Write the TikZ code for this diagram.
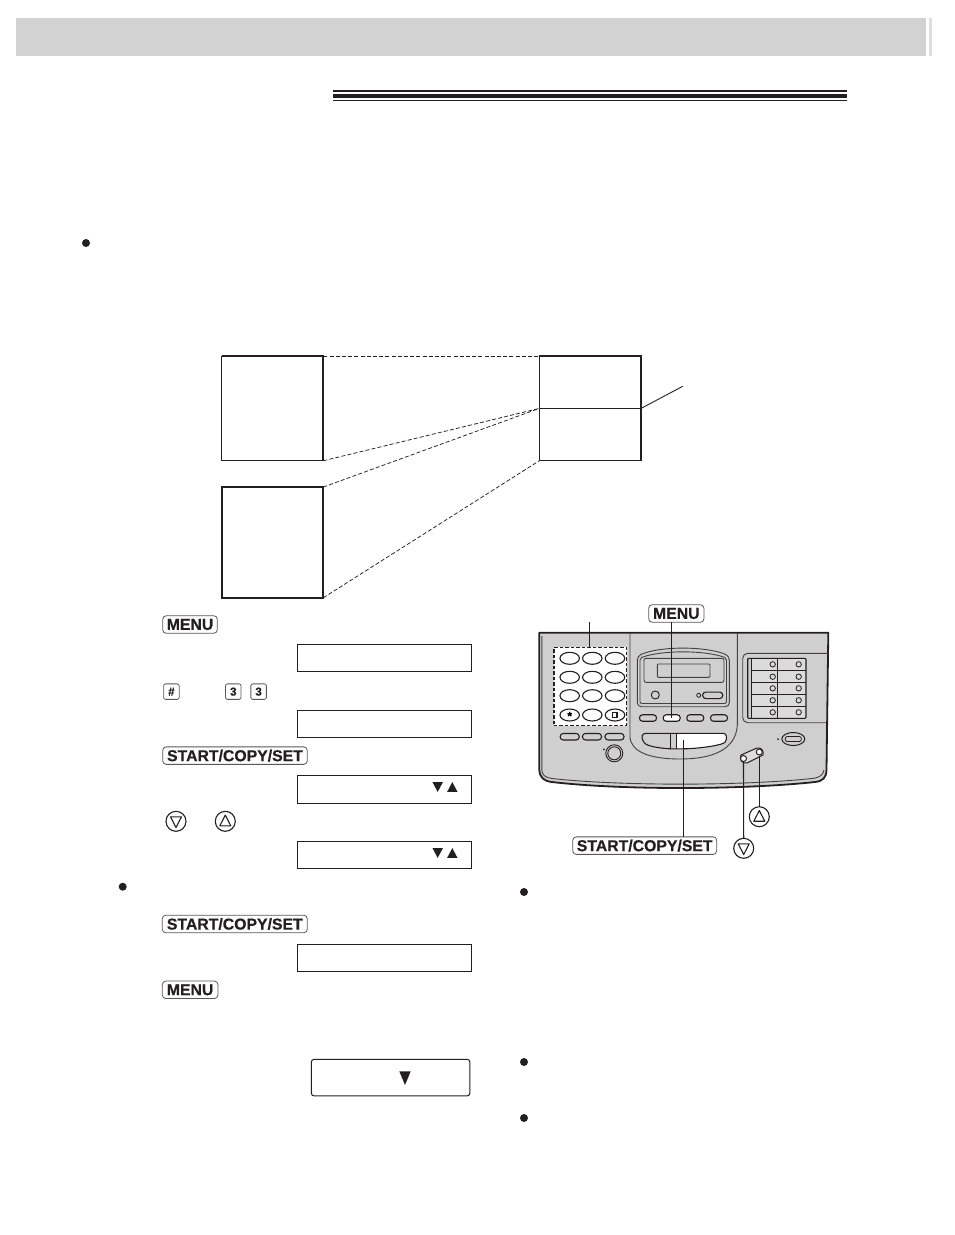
\documentclass[tikz,border=0pt]{standalone}
\usepackage{fontspec}
\setmainfont[BoldFeatures={FakeBold=0.6}]{Liberation Sans}
\usetikzlibrary{shapes.geometric,calc}
\definecolor{hdr}{HTML}{D2D2D2}
\definecolor{hdrb}{HTML}{DEDEDE}
\definecolor{pan}{HTML}{CFCFCF}
\definecolor{ink}{HTML}{231F20}
\tikzset{
  keycap/.style={draw=ink!75,line width=.8pt,rounded corners=3.5pt,inner sep=0pt,outer sep=0pt,fill=white,
    font=\bfseries\fontsize{15.8}{16}\selectfont,text=ink,minimum height=17.5pt},
  smallkey/.style={keycap,minimum height=15.5pt,minimum width=15.5pt,rounded corners=2pt,font=\bfseries\fontsize{11.5}{12}\selectfont},
  lcdbox/.style={draw=ink,line width=1.1pt,minimum width=174.4pt,minimum height=27pt,inner sep=0pt,outer sep=0pt},
  bigbox/.style={draw=ink,line width=1.1pt,inner sep=0pt,outer sep=0pt},
  tri/.style={fill=ink,draw=none},
  dashln/.style={draw=ink,line width=.75pt,dash pattern=on 4pt off 2.2pt},
  ldr/.style={draw=ink,line width=1.1pt},
  dotb/.style={circle,fill=ink,minimum size=8pt,inner sep=0pt},
  roundkey/.style={circle,draw=ink,line width=1.1pt,fill=white,minimum size=20pt,inner sep=0pt,outer sep=0pt},
  ovalkey/.style={ellipse,draw=ink,line width=1.1pt,fill=white,minimum width=19.5pt,minimum height=12pt,inner sep=0pt,outer sep=0pt},
  pill/.style={rounded corners=3pt,draw=ink,line width=1.1pt,inner sep=0pt,outer sep=0pt,minimum height=6.5pt,minimum width=17pt},
  panline/.style={draw=ink!85,line width=.9pt},
  led/.style={circle,draw=ink,line width=.8pt,minimum size=5.4pt,inner sep=0pt},
}
\newcommand{\downtri}[2]{\fill[tri] (#1-5.2,#2-4.9) -- (#1+5.2,#2-4.9) -- (#1,#2+4.9) -- cycle;}
\newcommand{\uptri}[2]{\fill[tri] (#1-5.2,#2+4.9) -- (#1+5.2,#2+4.9) -- (#1,#2-4.9) -- cycle;}
\begin{document}
\begin{tikzpicture}[x=1pt,y=-1pt]
\useasboundingbox (0,0) rectangle (954,1235);
% header
\fill[hdr] (16,18) rectangle (926,56);
\fill[hdrb] (929,18) rectangle (932,56);
% triple rule
\fill[ink] (333,90.3) rectangle (847,92.4);
\fill[ink] (333,94.1) rectangle (847,97.6);
\fill[ink] (333,99.6) rectangle (847,100.7);
% bullets
\node[dotb] (b0) at (86,243) {};
\node[dotb] (b1) at (122.7,886.7) {};
\node[dotb] (b2) at (524,892) {};
\node[dotb] (b3) at (524,1062) {};
\node[dotb] (b4) at (524,1118) {};
% upper diagram
\node[bigbox,minimum width=101.6pt,minimum height=104.7pt] (pa) at (272.5,408.4) {};
\node[bigbox,line width=2pt,minimum width=101.4pt,minimum height=110.7pt] (pb) at (272.6,542.4) {};
\node[bigbox,minimum width=101.8pt,minimum height=104.7pt] (pc) at (590.2,408.4) {};
\draw[ink,line width=2pt] (pa.north west) -- (pa.north east) -- (pa.south east);
\draw[ink,line width=2pt] (pc.north west) -- (pc.north east) -- (pc.south east);
\draw[ink,line width=1.1pt] (pc.west) -- (pc.east);
\coordinate (leaderend) at (682.7,386.3);
\draw[ink,line width=.9pt] (pc.east) -- (leaderend);
\draw[dashln] (pa.north east) -- (pc.north west);
\draw[dashln] (pa.south east) -- (pc.west);
\draw[dashln] (pb.north east) -- (pc.west);
\draw[dashln] (pb.south east) -- (pc.south west);
% left steps
\node[keycap,minimum width=54.6pt] (m1) at (190,624.5) {MENU};
\node[lcdbox] (d1) at (384.5,658) {};
\node[smallkey] (kh) at (171.4,691.6) {\#};
\node[smallkey] (k3a) at (233.3,691.6) {3};
\node[smallkey] (k3b) at (258.6,691.6) {3};
\node[lcdbox] (d2) at (384.5,723.8) {};
\node[keycap,minimum width=144.6pt] (s1) at (235,755.6) {START/COPY/SET};
\node[lcdbox,minimum height=28pt] (d3) at (384.5,789.3) {};
\downtri{437.7}{787}
\uptri{452.3}{787}
\node[roundkey] (kd) at (176,821.3) {};
\node[roundkey] (ku) at (225.3,821.3) {};
\draw[ink,line width=1.1pt,line join=round] (170.5,816.8) -- (181.5,816.8) -- (176,827.5) -- cycle;
\draw[ink,line width=1.1pt,line join=round] (219.8,825.8) -- (230.8,825.8) -- (225.3,815.1) -- cycle;
\node[lcdbox] (d4) at (384.5,854.8) {};
\downtri{437.7}{853}
\uptri{452.3}{853}
\node[keycap,minimum width=145pt] (s2) at (234.8,924) {START/COPY/SET};
\node[lcdbox] (d5) at (384.5,957.8) {};
\node[keycap,minimum width=55.6pt] (m2) at (190.1,989.8) {MENU};
\node[draw=ink,line width=1pt,rounded corners=3pt,minimum width=158.7pt,minimum height=36.7pt,inner sep=0pt] (d6) at (390.6,1077.6) {};
\fill[tri] (399.3,1071.3) -- (410.7,1071.3) -- (405,1085) -- cycle;
% fax panel body
\path[fill=pan] (539.3,632.7) -- (828.3,632.7) -- (826.5,770)
  .. controls (826,778) and (823,781) .. (815,782)
  .. controls (740,790) and (620,790) .. (552,782)
  .. controls (544,781) and (540,778) .. (539.6,770) -- cycle;
\draw[ink,line width=1.8pt,line join=round] (539.3,770) -- (539.3,632.7) -- (828.3,632.7) -- (826.5,770)
  .. controls (826,778) and (823,781) .. (815,782)
  .. controls (740,790) and (620,790) .. (552,782)
  .. controls (544,781) and (540,778) .. (539.3,770);
\draw[panline] (541.8,636) -- (541.8,770) .. controls (542,775) and (545,777.5) .. (552,778.5)
  .. controls (620,786) and (740,786) .. (812,778.5)
  .. controls (820,777.5) and (823,775) .. (824,770);
% central recess
\draw[panline] (630,633) -- (630,737) .. controls (631,752) and (650,759) .. (680,759)
  .. controls (712,759) and (736,750) .. (737.3,725) -- (737.3,633);
\draw[panline,rounded corners=5pt] (828,653.3) -- (742.7,653.3) -- (742.7,722.7) -- (826,722.7);
% display cluster
\draw[panline,rounded corners=4pt] (637.3,656) .. controls (660,646) and (706,646) .. (729.3,656) -- (729.3,706.7) -- (637.3,706.7) -- cycle;
\draw[panline,rounded corners=2pt] (640,658) .. controls (662,650) and (704,650) .. (726.5,658) -- (726.5,703.5) -- (640,703.5) -- cycle;
\draw[panline,rounded corners=2pt] (644,658.3) rectangle (724,682.3);
\draw[panline,rounded corners=1pt] (657.3,664) rectangle (710,677.3);
\node[circle,draw=ink,line width=.9pt,minimum size=8pt,inner sep=0pt] (pw) at (655.3,695) {};
\node[circle,draw=ink,line width=.8pt,minimum size=4pt,inner sep=0pt] (rl) at (698.7,695.3) {};
\node[pill,minimum width=20pt,fill=pan] (rp) at (712.7,695.3) {};
% keypad
\node[draw=ink,line width=1.1pt,dash pattern=on 3.5pt off 2pt,fill=white,minimum width=72.7pt,minimum height=78.4pt,inner sep=0pt,outer sep=0pt] (pad) at (590.3,686.5) {};
\foreach \r/\yy in {1/658.3,2/677.3,3/695.7,4/715}
  \foreach \c/\xx in {a/569.7,b/592.3,c/615}
    \node[ovalkey] (o\c\r) at (\xx,\yy) {};
\node[font=\bfseries\fontsize{12}{12}\selectfont,inner sep=0pt] (star) at (569.7,716) {*};
\draw[ink,line width=1.1pt] (612.8,712.8) rectangle (617,717.6);
% keys under keypad
\foreach \n/\xx in {a/569.7,b/592,c/614.5}
  \node[pill,minimum width=19pt] (u\n) at (\xx,736.7) {};
\node[circle,draw=ink,line width=.9pt,minimum size=17pt,inner sep=0pt] (dialo) at (614.3,753.3) {};
\node[circle,draw=ink,line width=.9pt,minimum size=13pt,inner sep=0pt] (diali) at (614.3,753.3) {};
\fill[ink] (604,749.3) circle (1pt);
% four buttons
\node[pill] (f1) at (648,718) {};
\node[pill,fill=white] (menubtn) at (671.7,718) {};
\node[pill] (f3) at (695.3,718) {};
\node[pill] (f4) at (719,718) {};
% wide start bar
\path[fill=white] (676.7,733.3) -- (722,733.3) .. controls (727,733.3) and (727,738) .. (725.5,741.5) .. controls (723,745) and (700,748.5) .. (676.7,749) -- cycle;
\draw[ink,line width=1.1pt,rounded corners=1pt] (646,733.3) -- (722,733.3) .. controls (727,733.3) and (727,738) .. (725.5,741.5) .. controls (723,745) and (700,748.5) .. (684,748.8) -- (670,748.8) .. controls (658,748) and (646,746) .. (643.5,741.5) .. controls (641,737) and (642,733.3) .. (646,733.3);
\draw[ink,line width=1pt] (670,733.3) -- (670,748.8);
\draw[ink,line width=1pt] (676.7,733.3) -- (676.7,749);
\coordinate (startbtn) at (683.7,740);
% one-touch block
\fill[pan!75!white] (751.7,658.8) rectangle (805.5,717.8);
\draw[ink,line width=1.1pt,rounded corners=1pt] (747.7,658.3) rectangle (806,718.3);
\draw[ink,line width=1.1pt] (751.7,658.3) -- (751.7,718.3);
\foreach \yy in {670.7,682.3,694,706.3} \draw[ink,line width=.9pt] (751.7,\yy) -- (806,\yy);
\draw[ink,line width=.9pt] (777.7,658.3) -- (777.7,718.3);
\foreach \i/\yy in {1/664.3,2/676.7,3/688.3,4/700.3,5/712.3}{
  \node[led] (la\i) at (772.7,\yy) {};
  \node[led] (lb\i) at (798.7,\yy) {};
}
% right oval button
\node[ellipse,draw=ink,line width=1pt,minimum width=23pt,minimum height=13pt,inner sep=0pt] (ro) at (793.3,739) {};
\node[pill,minimum width=16pt,minimum height=5pt,rounded corners=2pt,line width=.8pt] (roi) at (793.3,739) {};
\fill[ink] (778,739) circle (1pt);
% rocker
\draw[ink,line width=1pt,fill=pan!70!white] (741,755) -- (757,748) .. controls (762,747) and (764,752) .. (763,755) -- (747,763) .. controls (742,764) and (739,759) .. (741,755);
\node[circle,draw=ink,line width=1pt,fill=white,minimum size=6pt,inner sep=0pt] (rockd) at (743.5,758.5) {};
\node[circle,draw=ink,line width=1pt,fill=white,minimum size=6pt,inner sep=0pt] (rocku) at (759.3,752) {};
% right labels and leaders
\node[keycap,minimum width=55.3pt] (m3) at (676.3,613.5) {MENU};
\node[keycap,minimum width=144pt] (s3) at (644.7,845.6) {START/COPY/SET};
\node[roundkey] (ku2) at (759.3,816.7) {};
\node[roundkey] (kd2) at (743.7,848.3) {};
\draw[ink,line width=1.1pt,line join=round] (753.8,821.2) -- (764.8,821.2) -- (759.3,810.5) -- cycle;
\draw[ink,line width=1.1pt,line join=round] (738.2,843.8) -- (749.2,843.8) -- (743.7,854.5) -- cycle;
\coordinate (padtop) at (589.3,622.3);
\draw[ldr] (padtop) -- (pad.north -| padtop);
\draw[ldr] (m3.south -| menubtn) -- (menubtn.center);
\draw[ldr] (s3.north -| startbtn) -- (startbtn);
\draw[ldr] (rockd.south) -- (kd2.north);
\draw[ldr] (rocku.south) -- (ku2.north);
\end{tikzpicture}
\end{document}
